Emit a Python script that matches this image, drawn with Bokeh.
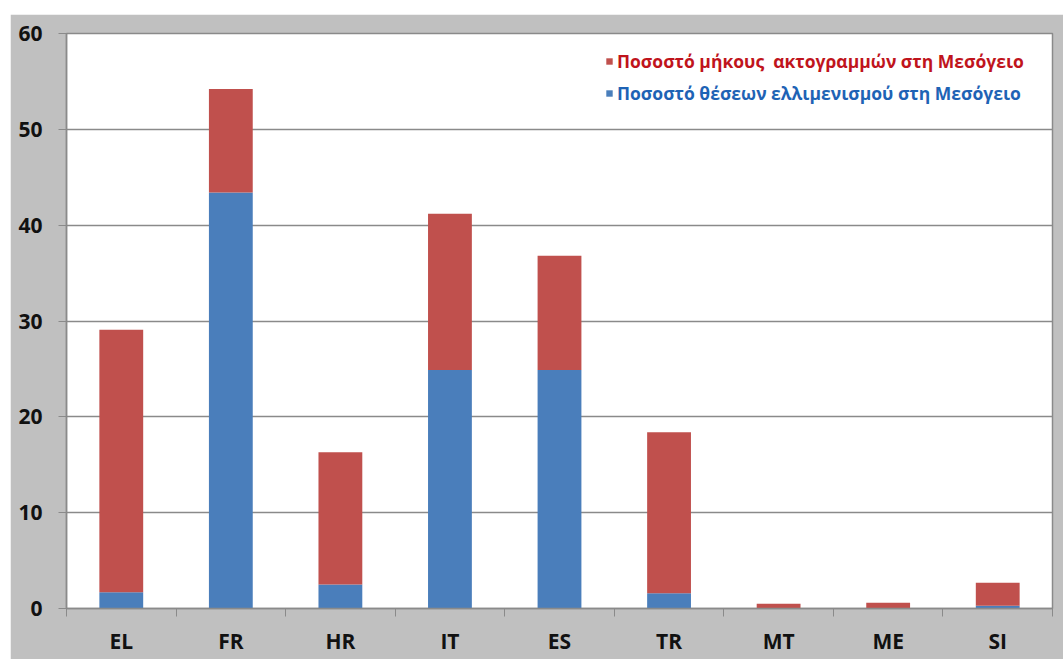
from bokeh.plotting import figure
from bokeh.models import Range1d, FixedTicker, Legend, LegendItem, ColumnDataSource
from bokeh.embed import file_html
from bokeh.resources import INLINE

countries = ["EL", "FR", "HR", "IT", "ES", "TR", "MT", "ME", "SI"]
berths = [1.7, 43.4, 2.5, 24.9, 24.9, 1.6, 0.0, 0.0, 0.3]          # Ποσοστό θέσεων ελλιμενισμού
coastline = [27.4, 10.8, 13.8, 16.3, 11.9, 16.8, 0.5, 0.6, 2.4]    # Ποσοστό μήκους ακτογραμμών
y_ticks = [0, 10, 20, 30, 40, 50, 60]

label_red = "Ποσοστό μήκους  ακτογραμμών στη Μεσόγειο"
label_blue = "Ποσοστό θέσεων ελλιμενισμού στη Μεσόγειο"

BLUE = "#4a7ebb"
RED = "#c0504d"
GRAY_BG = "#c0c0c0"
LINE = "#8a8a8a"
FONT = "Open Sans"

centers = [i + 0.5 for i in range(len(countries))]
source = ColumnDataSource(dict(x=centers, berths=berths, coastline=coastline))

p = figure(width=1053, height=645, output_backend="svg", toolbar_location=None,
           x_range=Range1d(0, len(countries)), y_range=Range1d(0, 60),
           min_border_left=56, min_border_top=19, min_border_right=11, min_border_bottom=51)
p.margin = (14, 0, 0, 10)

p.border_fill_color = GRAY_BG
p.background_fill_color = "white"
p.outline_line_color = LINE
p.outline_line_width = 1.5

renderers = p.vbar_stack(["berths", "coastline"], x="x", width=0.4,
                         color=[BLUE, RED], line_color=None, source=source)

# axes
p.xaxis.ticker = FixedTicker(ticks=centers, minor_ticks=list(range(len(countries) + 1)))
p.xaxis.major_label_overrides = {c: n for c, n in zip(centers, countries)}
p.xaxis.major_tick_out = 0
p.xaxis.major_tick_in = 0
p.xaxis.minor_tick_out = 8
p.xaxis.minor_tick_in = 0
p.xaxis.minor_tick_line_color = LINE
p.xaxis.axis_line_color = LINE
p.xaxis.axis_line_width = 1.5
p.xaxis.major_label_text_font = FONT
p.xaxis.major_label_text_font_style = "bold"
p.xaxis.major_label_text_font_size = "21px"
p.xaxis.major_label_text_color = "#111111"
p.xaxis.major_label_standoff = 10

p.yaxis.ticker = FixedTicker(ticks=y_ticks)
p.yaxis.major_tick_out = 8
p.yaxis.major_tick_in = 0
p.yaxis.minor_tick_line_color = None
p.yaxis.major_tick_line_color = LINE
p.yaxis.axis_line_color = LINE
p.yaxis.axis_line_width = 1.5
p.yaxis.major_label_text_font = FONT
p.yaxis.major_label_text_font_style = "bold"
p.yaxis.major_label_text_font_size = "21px"
p.yaxis.major_label_text_color = "#111111"
p.yaxis.major_label_standoff = 16

p.xgrid.grid_line_color = None
p.ygrid.ticker = FixedTicker(ticks=y_ticks)
p.ygrid.grid_line_color = LINE
p.ygrid.grid_line_width = 1.5

# legends (two, to give each label its own colour)
def make_legend(label, rend, color, loc):
    lg = Legend(items=[LegendItem(label=label, renderers=[rend])], location=loc,
                padding=0, margin=0, border_line_color=None, background_fill_alpha=0,
                glyph_width=8, glyph_height=8, label_standoff=4,
                label_text_font=FONT, label_text_font_style="bold",
                label_text_font_size="17.5px", label_text_color=color)
    p.add_layout(lg, "center")
    return lg

make_legend(label_red, renderers[1], "#c0141c", (539, 535))
make_legend(label_blue, renderers[0], "#1e63b5", (539, 503))

open("out.html", "w").write(file_html(p, INLINE))
